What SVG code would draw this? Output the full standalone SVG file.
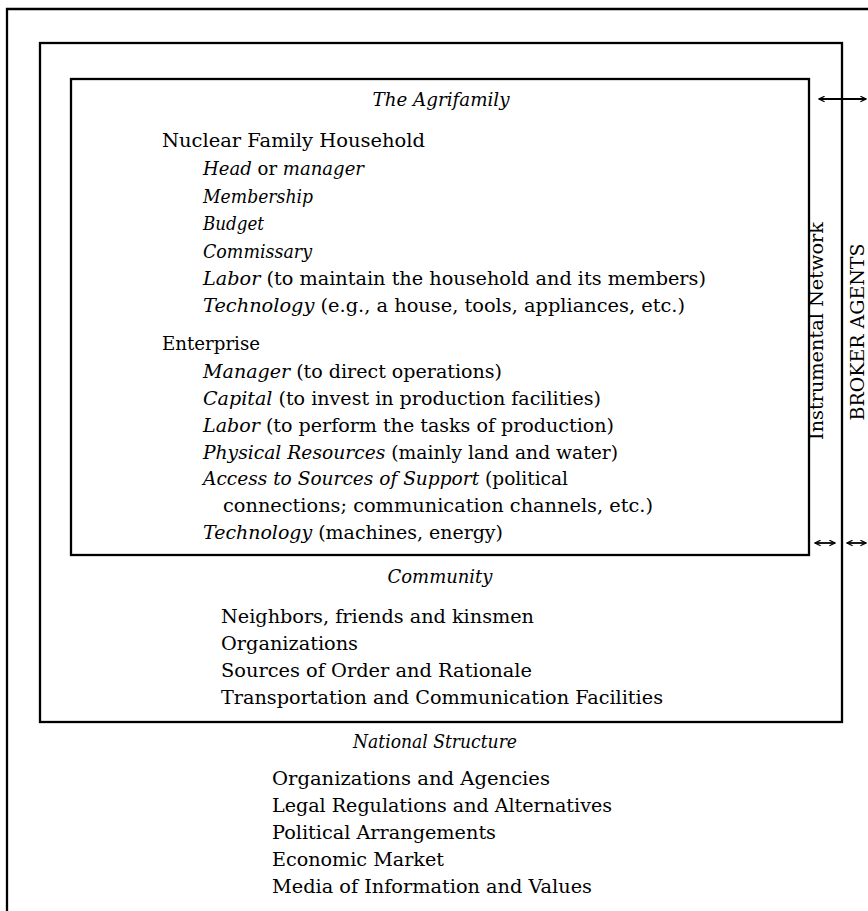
<svg xmlns="http://www.w3.org/2000/svg" width="868" height="911" viewBox="0 0 868 911">
  <style>
    .frame { fill: none; stroke: #000; stroke-width: 2.3; }
    .t { font-family: "DejaVu Serif", "Liberation Serif", serif; font-size: 18px; fill: #000; }
    .i { font-style: italic; }
    .mid { text-anchor: middle; }
    .arr { fill: none; stroke: #000; stroke-width: 1.8; }
  </style>
  <defs>
    <marker id="head" viewBox="0 0 10 10" refX="9" refY="5" markerWidth="7" markerHeight="7" orient="auto-start-reverse" markerUnits="userSpaceOnUse">
      <path d="M1,1 L9,5 L1,9" fill="none" stroke="#000" stroke-width="1.8"/>
    </marker>
  </defs>

  <!-- National Structure: outermost frame (top and left edges) -->
  <g id="national">
    <path class="frame" d="M7,911 V9 H868"/>
    <text class="t i mid" x="435" y="748" textLength="164" lengthAdjust="spacingAndGlyphs">National Structure</text>
    <text class="t" x="272" y="785" textLength="278" lengthAdjust="spacingAndGlyphs">Organizations and Agencies</text>
    <text class="t" x="272" y="812" textLength="340" lengthAdjust="spacingAndGlyphs">Legal Regulations and Alternatives</text>
    <text class="t" x="272" y="839" textLength="224" lengthAdjust="spacingAndGlyphs">Political Arrangements</text>
    <text class="t" x="272" y="866" textLength="172" lengthAdjust="spacingAndGlyphs">Economic Market</text>
    <text class="t" x="272" y="893" textLength="320" lengthAdjust="spacingAndGlyphs">Media of Information and Values</text>
  </g>

  <!-- Community frame -->
  <g id="community">
    <rect class="frame" x="40" y="43" width="802" height="679"/>
    <text class="t i mid" x="440" y="583" textLength="105" lengthAdjust="spacingAndGlyphs">Community</text>
    <text class="t" x="221" y="623" textLength="313" lengthAdjust="spacingAndGlyphs">Neighbors, friends and kinsmen</text>
    <text class="t" x="221" y="650" textLength="137" lengthAdjust="spacingAndGlyphs">Organizations</text>
    <text class="t" x="221" y="677" textLength="311" lengthAdjust="spacingAndGlyphs">Sources of Order and Rationale</text>
    <text class="t" x="221" y="704" textLength="442" lengthAdjust="spacingAndGlyphs">Transportation and Communication Facilities</text>
  </g>

  <!-- The Agrifamily: innermost frame -->
  <g id="agrifamily">
    <rect class="frame" x="71" y="79" width="738" height="476"/>
    <text class="t i mid" x="441" y="106" textLength="137" lengthAdjust="spacingAndGlyphs">The Agrifamily</text>

    <text class="t" x="162" y="147" textLength="263" lengthAdjust="spacingAndGlyphs">Nuclear Family Household</text>
    <text class="t" x="203" y="175" textLength="161" lengthAdjust="spacingAndGlyphs"><tspan class="i">Head</tspan> or <tspan class="i">manager</tspan></text>
    <text class="t i" x="203" y="202.5" textLength="110" lengthAdjust="spacingAndGlyphs">Membership</text>
    <text class="t i" x="203" y="230" textLength="61" lengthAdjust="spacingAndGlyphs">Budget</text>
    <text class="t i" x="203" y="257.5" textLength="109" lengthAdjust="spacingAndGlyphs">Commissary</text>
    <text class="t" x="203" y="285" textLength="503" lengthAdjust="spacingAndGlyphs"><tspan class="i">Labor</tspan> (to maintain the household and its members)</text>
    <text class="t" x="203" y="312" textLength="482" lengthAdjust="spacingAndGlyphs"><tspan class="i">Technology</tspan> (e.g., a house, tools, appliances, etc.)</text>

    <text class="t" x="162" y="350" textLength="98" lengthAdjust="spacingAndGlyphs">Enterprise</text>
    <text class="t" x="203" y="377.5" textLength="299" lengthAdjust="spacingAndGlyphs"><tspan class="i">Manager</tspan> (to direct operations)</text>
    <text class="t" x="203" y="404.5" textLength="398" lengthAdjust="spacingAndGlyphs"><tspan class="i">Capital</tspan> (to invest in production facilities)</text>
    <text class="t" x="203" y="431.5" textLength="411" lengthAdjust="spacingAndGlyphs"><tspan class="i">Labor</tspan> (to perform the tasks of production)</text>
    <text class="t" x="203" y="458.5" textLength="415" lengthAdjust="spacingAndGlyphs"><tspan class="i">Physical Resources</tspan> (mainly land and water)</text>
    <text class="t" x="203" y="485" textLength="365" lengthAdjust="spacingAndGlyphs"><tspan class="i">Access to Sources of Support</tspan> (political</text>
    <text class="t" x="223" y="512" textLength="430" lengthAdjust="spacingAndGlyphs">connections; communication channels, etc.)</text>
    <text class="t" x="203" y="538.5" textLength="300" lengthAdjust="spacingAndGlyphs"><tspan class="i">Technology</tspan> (machines, energy)</text>
  </g>

  <!-- Side labels -->
  <g id="instrumental-network">
    <text class="t mid" style="font-size:19px" transform="translate(823,331) rotate(-90)" textLength="218" lengthAdjust="spacingAndGlyphs">Instrumental Network</text>
  </g>
  <g id="broker-agents">
    <text class="t mid" style="font-size:19px" transform="translate(864,332) rotate(-90)" textLength="177" lengthAdjust="spacingAndGlyphs">BROKER AGENTS</text>
  </g>

  <!-- Exchange arrows across the frames -->
  <g id="connectors">
    <line class="arr" x1="819" y1="99" x2="866" y2="99" marker-start="url(#head)" marker-end="url(#head)"/>
    <line class="arr" x1="815" y1="543" x2="835" y2="543" marker-start="url(#head)" marker-end="url(#head)"/>
    <line class="arr" x1="847" y1="543" x2="866" y2="543" marker-start="url(#head)" marker-end="url(#head)"/>
  </g>
</svg>
